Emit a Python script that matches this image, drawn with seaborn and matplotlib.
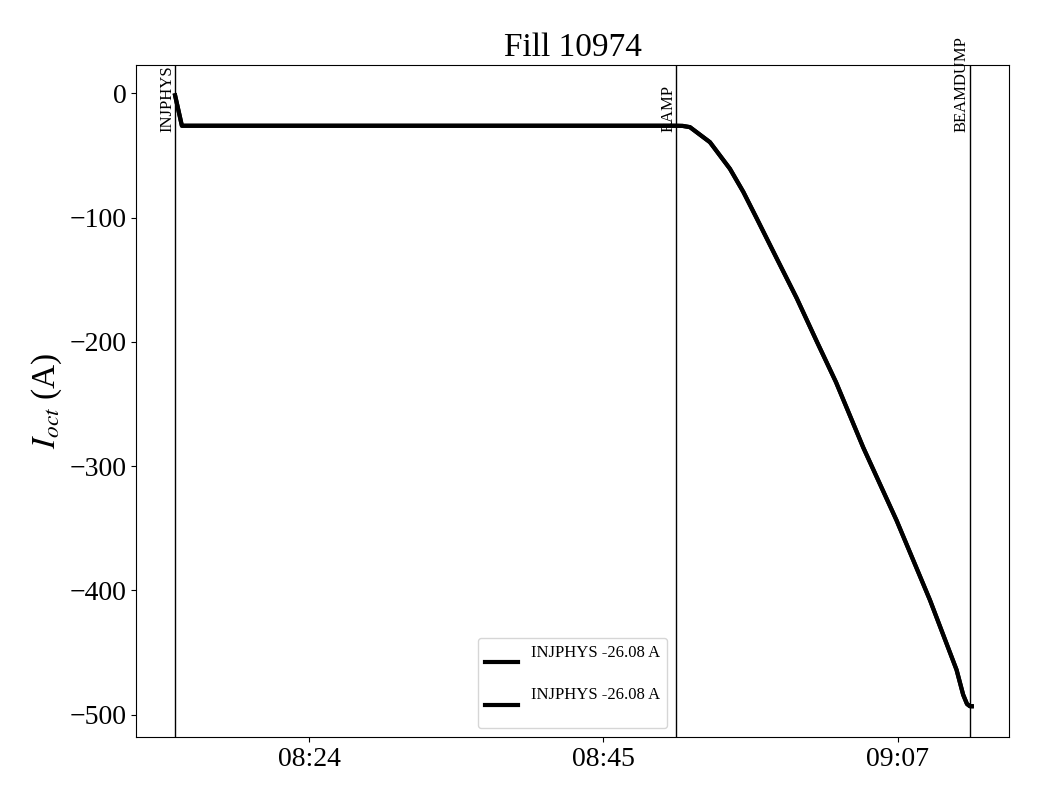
import numpy as np
import pandas as pd
import seaborn as sns
import matplotlib.pyplot as plt
import matplotlib.dates as mdates

day = "2025-06-01 "

# octupole current
times = ["08:14:20", "08:14:50", "08:51:06", "08:51:35", "08:52:07", "08:53:35",
         "08:55:03", "08:56:02", "08:57:01", "08:58:29", "08:59:57", "09:01:25",
         "09:02:50", "09:04:50", "09:07:17", "09:09:44", "09:11:41", "09:12:10",
         "09:12:27", "09:12:40", "09:12:48"]
i_oct = [-1.6, -26.08, -26.08, -26.2, -27.2, -39.3,
         -60.7, -79.3, -100.6, -132.8, -164.8, -199.5,
         -232.4, -285.0, -343.8, -407.9, -464.0, -484.0,
         -491.5, -493.3, -493.3]

mode_names = ["INJPHYS", "RAMP", "BEAMDUMP"]
mode_times = ["08:14:20", "08:51:06", "09:12:40"]

tick_times = ["08:24:10", "08:45:46", "09:07:22"]
x_range = ["08:11:29", "09:15:31"]
legend_labels = ["INJPHYS -26.08 A\n", "INJPHYS -26.08 A\n"]

df = pd.DataFrame({"time": pd.to_datetime([day + t for t in times]), "I": i_oct})

plt.rcParams['font.family'] = ['Liberation Serif', 'DejaVu Serif']
plt.rcParams['mathtext.fontset'] = 'stix'

fig, ax = plt.subplots(figsize=(10.4, 8), dpi=100)
fig.subplots_adjust(left=0.131, right=0.970, bottom=0.079, top=0.919)

for lab in legend_labels:
    sns.lineplot(data=df, x="time", y="I", color="black", linewidth=3, label=lab, ax=ax)

for name, t in zip(mode_names, mode_times):
    tt = pd.Timestamp(day + t)
    ax.axvline(tt, color="black", linewidth=1)
    ax.text(tt, -31.5, name, rotation=90, ha="right", va="bottom", fontsize=12)

ax.set_xlim(pd.to_datetime([day + t for t in x_range]))
ax.set_xticks(pd.to_datetime([day + t for t in tick_times]))
ax.xaxis.set_major_formatter(mdates.DateFormatter("%H:%M"))
ax.tick_params(labelsize=20)
ax.set_xlabel("")
ax.set_ylabel(r"$I_{oct}$ (A)", fontsize=24)
ax.set_title("Fill 10974", fontsize=24)
ax.legend(loc="lower center", fontsize=12)

fig.savefig("out.png", dpi=100)
